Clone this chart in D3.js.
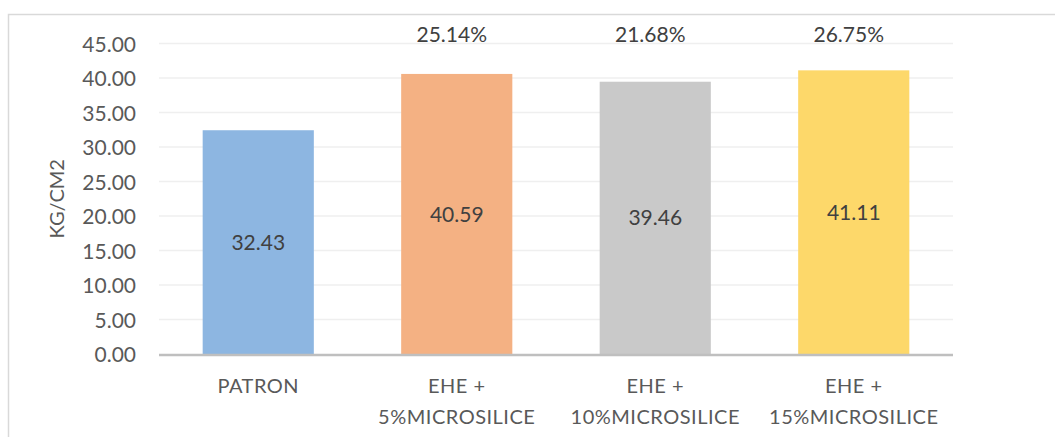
<!DOCTYPE html>
<html>
<head>
<meta charset="utf-8">
<script src="https://cdn.jsdelivr.net/npm/d3@7"></script>
<style>
  html, body { margin: 0; padding: 0; background: #fff; }
  svg { display: block; }
  text { font-family: Lato, "Open Sans", sans-serif; }
</style>
</head>
<body>
<svg id="chart" width="1055" height="437"></svg>
<script>
// Compressive strength per mix (kg/cm2)
const categories = [["PATRON"], ["EHE +", "5%MICROSILICE"], ["EHE +", "10%MICROSILICE"], ["EHE +", "15%MICROSILICE"]];
const values = [32.43, 40.59, 39.46, 41.11];
const gains = [null, "25.14%", "21.68%", "26.75%"];
const colors = ["#8db6e1", "#f4b183", "#c9c9c9", "#fdd86a"];
const yTicks = [0, 5, 10, 15, 20, 25, 30, 35, 40, 45];
const yTitle = "KG/CM2";

const svg = d3.select("#chart");
const W = 1055, H = 437;
const plot = { left: 159, right: 953, top: 43.5, bottom: 354 };

// Outer frame (only left and top edges fall inside the view)
svg.append("path")
  .attr("d", `M8.5,${H + 2} V14.5 H${W + 2}`)
  .attr("fill", "none")
  .attr("stroke", "#d9d9d9")
  .attr("stroke-width", 1.5);

const x = d3.scaleBand()
  .domain(d3.range(categories.length))
  .range([plot.left, plot.right])
  .paddingInner(0.44)
  .paddingOuter(0.22);

const y = d3.scaleLinear()
  .domain([0, 45])
  .range([plot.bottom, plot.top]);

// Horizontal gridlines
svg.append("g")
  .selectAll("line")
  .data(yTicks.filter(t => t > 0))
  .join("line")
  .attr("x1", plot.left).attr("x2", plot.right)
  .attr("y1", d => y(d)).attr("y2", d => y(d))
  .attr("stroke", "#efefef")
  .attr("stroke-width", 1.5);

// Y axis tick labels
const yAxis = d3.axisLeft(y)
  .tickValues(yTicks)
  .tickFormat(d3.format(".2f"))
  .tickSize(0)
  .tickPadding(0);
const gy = svg.append("g")
  .attr("transform", `translate(136,0)`)
  .call(yAxis);
gy.select(".domain").remove();
gy.selectAll("text")
  .attr("font-family", "Lato, sans-serif")
  .attr("font-size", 21)
  .attr("fill", "#595959")
  .attr("dy", "0.36em");

// Y axis title
svg.append("text")
  .attr("transform", `translate(64,${(plot.top + plot.bottom) / 2}) rotate(-90)`)
  .attr("text-anchor", "middle")
  .attr("font-size", 20)
  .attr("fill", "#595959")
  .text(yTitle);

// Bars
svg.append("g")
  .selectAll("rect")
  .data(values)
  .join("rect")
  .attr("x", (d, i) => x(i))
  .attr("width", x.bandwidth())
  .attr("y", d => y(d))
  .attr("height", d => y(0) - y(d))
  .attr("fill", (d, i) => colors[i]);

// Baseline
svg.append("line")
  .attr("x1", plot.left).attr("x2", plot.right)
  .attr("y1", y(0) + 1).attr("y2", y(0) + 1)
  .attr("stroke", "#bfbfbf")
  .attr("stroke-width", 2.5);

// Value labels centred in each bar
svg.append("g")
  .selectAll("text")
  .data(values)
  .join("text")
  .attr("x", (d, i) => x(i) + x.bandwidth() / 2)
  .attr("y", d => (y(d) + y(0)) / 2)
  .attr("dy", "0.36em")
  .attr("text-anchor", "middle")
  .attr("font-size", 21)
  .attr("fill", "#404040")
  .text(d => d.toFixed(2));

// Gain labels above the plot
svg.append("g")
  .selectAll("text")
  .data(gains.map((g, i) => ({ g, i })).filter(d => d.g))
  .join("text")
  .attr("x", d => x(d.i) + x.bandwidth() / 2 - 5)
  .attr("y", y(45) - 1.5)
  .attr("text-anchor", "middle")
  .attr("font-size", 21)
  .attr("fill", "#404040")
  .text(d => d.g);

// Category labels
const cat = svg.append("g")
  .selectAll("text")
  .data(categories)
  .join("text")
  .attr("x", (d, i) => x(i) + x.bandwidth() / 2)
  .attr("y", 393)
  .attr("text-anchor", "middle")
  .attr("font-size", 20)
  .attr("letter-spacing", 0.5)
  .attr("fill", "#595959");
cat.selectAll("tspan")
  .data(d => d)
  .join("tspan")
  .attr("x", function () { return this.parentNode.getAttribute("x"); })
  .attr("dy", (d, j) => j === 0 ? 0 : 30.5)
  .text(d => d);
</script>
</body>
</html>
